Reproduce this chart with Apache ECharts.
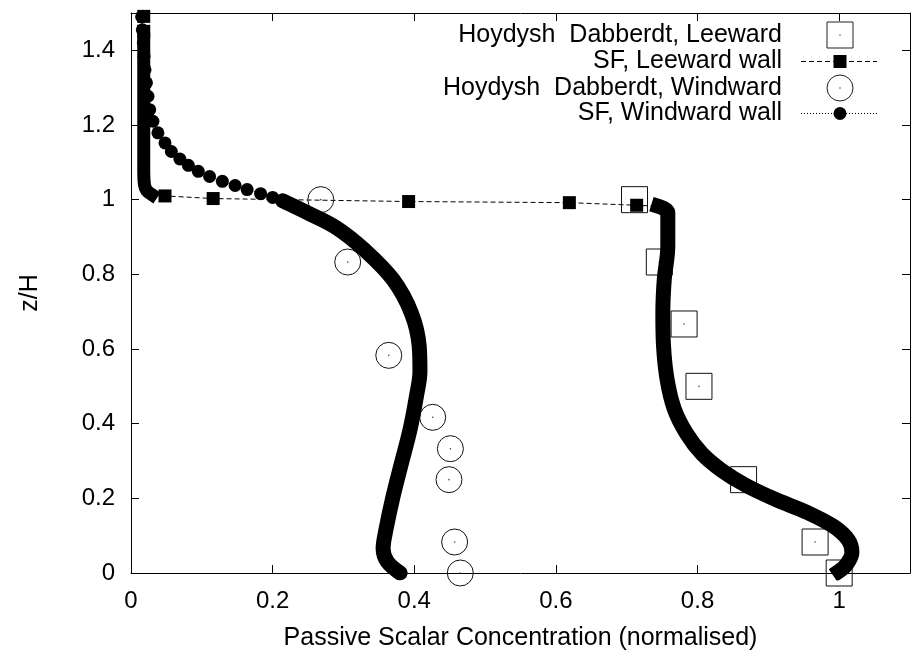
<!DOCTYPE html>
<html><head><meta charset="utf-8">
<script src="https://cdn.jsdelivr.net/npm/echarts@6/dist/echarts.min.js"></script>
<style>html,body{margin:0;padding:0;background:#fff}#c{width:915px;height:661px}</style>
</head><body><div id="c"></div>
<script>
// ---- tick labels ----
const xTickLabels = ['0', '0.2', '0.4', '0.6', '0.8', '1'];
const yTickLabels = ['0', '0.2', '0.4', '0.6', '0.8', '1', '1.2', '1.4'];
const legendNames = ['Hoydysh  Dabberdt, Leeward', 'SF, Leeward wall', 'Hoydysh  Dabberdt, Windward', 'SF, Windward wall'];
const xTitle = 'Passive Scalar Concentration (normalised)';
const yTitle = 'z/H';

// ---- Hoydysh & Dabberdt measurements ----
const hdLeewardX = [0.711, 0.746, 0.781, 0.802, 0.865, 0.966, 1.0];
const hdLeewardZ = [1.0, 0.833, 0.667, 0.5, 0.25, 0.083, 0.0];
const hdWindwardX = [0.268, 0.306, 0.364, 0.426, 0.451, 0.449, 0.457, 0.465];
const hdWindwardZ = [1.0, 0.833, 0.583, 0.417, 0.333, 0.25, 0.083, 0.0];

// ---- SF, Leeward wall ----
const sfLeeTopX = [0.018, 0.018];
const sfLeeTopZ = [1.491, 1.451];
const sfLeeColumnX = [0.018, 0.018, 0.018, 0.019, 0.022, 0.029];
const sfLeeColumnZ = [1.43, 1.25, 1.08, 1.04, 1.025, 1.014];
const sfLeeLinkX = [0.048, 0.116, 0.392, 0.619, 0.714];
const sfLeeLinkZ = [1.01, 1.003, 0.995, 0.992, 0.985];
const sfLeeWallX = [0.745, 0.758, 0.758, 0.753, 0.751, 0.752, 0.757, 0.767, 0.784, 0.806, 0.834, 0.868, 0.910, 0.955, 0.992, 1.013, 1.018, 1.010, 1.0];
const sfLeeWallZ = [0.982, 0.965, 0.875, 0.786, 0.696, 0.607, 0.518, 0.44, 0.375, 0.32, 0.275, 0.235, 0.197, 0.162, 0.125, 0.088, 0.055, 0.022, 0.005];

// ---- SF, Windward wall ----
const sfWindTopX = [0.015, 0.016, 0.0174, 0.0184, 0.0198, 0.0218, 0.024, 0.0264, 0.031, 0.038, 0.048, 0.057, 0.069, 0.081, 0.095, 0.111, 0.129, 0.147, 0.164, 0.183, 0.2, 0.214];
const sfWindTopZ = [1.49, 1.455, 1.42, 1.384, 1.348, 1.313, 1.277, 1.241, 1.21, 1.179, 1.152, 1.129, 1.109, 1.092, 1.076, 1.062, 1.049, 1.038, 1.027, 1.016, 1.006, 0.997];
const sfWindBandX = [0.214, 0.248, 0.290, 0.330, 0.370, 0.396, 0.407, 0.408, 0.403, 0.394, 0.382, 0.370, 0.360, 0.356, 0.362, 0.38];
const sfWindBandZ = [0.997, 0.966, 0.925, 0.865, 0.786, 0.696, 0.607, 0.540, 0.473, 0.384, 0.295, 0.205, 0.116, 0.065, 0.030, 0.0];

const zip = (xs, zs) => xs.map((x, i) => [x, zs[i]]);
const FONT = "'Liberation Sans', Arial, Helvetica, sans-serif";
const FS_TICK = 24;
const FS_TEXT = 25;

const fmtX = v => { const s = String(+(+v).toFixed(2)); return xTickLabels.includes(s) ? s : ''; };
const fmtY = v => { const s = String(+(+v).toFixed(2)); return yTickLabels.includes(s) ? s : ''; };

const chart = echarts.init(document.getElementById('c'), null, {renderer: 'canvas'});

const axisCommon = {
  type: 'value',
  splitLine: {show: false},
  axisLine: {show: true, onZero: false, lineStyle: {color: '#000', width: 1}},
  axisTick: {show: true, inside: true, length: 8, lineStyle: {color: '#000', width: 1}}
};

// legend (drawn as graphics: right-aligned text with the sample on the right)
const lx = 782, sx = 840, rows = [35, 61.5, 88, 113.5];
const legendGraphics = [];
legendNames.forEach((n, i) => {
  legendGraphics.push({type: 'text', x: lx, y: rows[i], z: 100,
    style: {text: n, fill: '#000', font: FS_TEXT + 'px ' + FONT, textAlign: 'right', textVerticalAlign: 'middle'}});
});
legendGraphics.push({type: 'rect', z: 100, shape: {x: sx - 13, y: rows[0] - 13, width: 26, height: 26}, style: {fill: 'none', stroke: '#222', lineWidth: 1}});
legendGraphics.push({type: 'circle', z: 100, shape: {cx: sx, cy: rows[0], r: 0.8}, style: {fill: '#555'}});
legendGraphics.push({type: 'line', z: 100, shape: {x1: 801, y1: rows[1], x2: 877, y2: rows[1]}, style: {stroke: '#000', lineWidth: 1, lineDash: [5, 3]}});
legendGraphics.push({type: 'rect', z: 100, shape: {x: sx - 6.5, y: rows[1] - 6.5, width: 13, height: 13}, style: {fill: '#000'}});
legendGraphics.push({type: 'circle', z: 100, shape: {cx: sx, cy: rows[2], r: 13}, style: {fill: 'none', stroke: '#222', lineWidth: 1}});
legendGraphics.push({type: 'circle', z: 100, shape: {cx: sx, cy: rows[2], r: 0.8}, style: {fill: '#555'}});
legendGraphics.push({type: 'line', z: 100, shape: {x1: 801, y1: rows[3], x2: 877, y2: rows[3]}, style: {stroke: '#000', lineWidth: 1, lineDash: [1, 2]}});
legendGraphics.push({type: 'circle', z: 100, shape: {cx: sx, cy: rows[3], r: 6.5}, style: {fill: '#000'}});

const openStyle = {color: 'rgba(0,0,0,0)', borderColor: '#111', borderWidth: 1, opacity: 1};
const solid = {color: '#000', opacity: 1};
const band = {color: '#000', width: 15, cap: 'square', join: 'round'};

chart.setOption({
  animation: false,
  backgroundColor: '#fff',
  grid: {left: 131, right: 5, top: 13, bottom: 88, containLabel: false},
  xAxis: [
    Object.assign({}, axisCommon, {
      position: 'bottom', min: 0, max: 1.1, interval: 0.2,
      name: xTitle, nameLocation: 'middle', nameGap: 53,
      nameTextStyle: {fontFamily: FONT, fontSize: FS_TEXT, color: '#000'},
      axisLabel: {show: true, margin: 16, fontFamily: FONT, fontSize: FS_TICK, color: '#000', formatter: fmtX}
    }),
    Object.assign({}, axisCommon, {position: 'top', min: 0, max: 1.1, interval: 0.2, axisLabel: {show: false}})
  ],
  yAxis: [
    Object.assign({}, axisCommon, {
      position: 'left', min: 0, max: 1.5, interval: 0.2,
      name: yTitle, nameLocation: 'middle', nameGap: 88,
      nameTextStyle: {fontFamily: FONT, fontSize: FS_TEXT, color: '#000'},
      axisLabel: {show: true, margin: 16, fontFamily: FONT, fontSize: FS_TICK, color: '#000', formatter: fmtY}
    }),
    Object.assign({}, axisCommon, {position: 'right', min: 0, max: 1.5, interval: 0.2, axisLabel: {show: false}})
  ],
  graphic: legendGraphics,
  series: [
    // Hoydysh & Dabberdt leeward
    {name: legendNames[0], type: 'scatter', data: zip(hdLeewardX, hdLeewardZ), symbol: 'rect', symbolSize: 26,
      itemStyle: openStyle, z: 2, silent: true},
    {type: 'scatter', data: zip(hdLeewardX, hdLeewardZ), symbol: 'circle', symbolSize: 1.6,
      itemStyle: {color: '#444', opacity: 1}, z: 2, silent: true},
    // SF leeward: dashed connecting line
    {name: legendNames[1], type: 'line', symbol: 'none', showSymbol: false, z: 3, silent: true,
      data: zip(sfLeeTopX, sfLeeTopZ).concat(zip(sfLeeColumnX, sfLeeColumnZ), zip(sfLeeLinkX, sfLeeLinkZ), zip(sfLeeWallX, sfLeeWallZ)),
      lineStyle: {color: '#000', width: 1, type: [5, 3]}},
    {type: 'scatter', symbol: 'rect', symbolSize: 13, z: 3, silent: true,
      data: zip(sfLeeTopX, sfLeeTopZ).concat(zip(sfLeeLinkX, sfLeeLinkZ)), itemStyle: solid},
    {type: 'line', symbol: 'none', showSymbol: false, z: 3, silent: true, smooth: 0.3,
      data: zip(sfLeeColumnX, sfLeeColumnZ), lineStyle: Object.assign({}, band, {width: 13})},
    {type: 'line', symbol: 'none', showSymbol: false, z: 3, silent: true, smooth: 0.35,
      data: zip(sfLeeWallX, sfLeeWallZ), lineStyle: band},
    // Hoydysh & Dabberdt windward
    {name: legendNames[2], type: 'scatter', data: zip(hdWindwardX, hdWindwardZ), symbol: 'circle', symbolSize: 26,
      itemStyle: openStyle, z: 4, silent: true},
    {type: 'scatter', data: zip(hdWindwardX, hdWindwardZ), symbol: 'circle', symbolSize: 1.6,
      itemStyle: {color: '#444', opacity: 1}, z: 4, silent: true},
    // SF windward
    {name: legendNames[3], type: 'line', symbol: 'none', showSymbol: false, z: 5, silent: true,
      data: zip(sfWindTopX, sfWindTopZ).concat(zip(sfWindBandX, sfWindBandZ)),
      lineStyle: {color: '#000', width: 1, type: [1, 2]}},
    {type: 'scatter', symbol: 'circle', symbolSize: 13, z: 5, silent: true,
      data: zip(sfWindTopX, sfWindTopZ), itemStyle: solid},
    {type: 'line', symbol: 'none', showSymbol: false, z: 5, silent: true, smooth: 0.35,
      data: zip(sfWindBandX, sfWindBandZ),
      lineStyle: {color: '#000', width: 15, cap: 'round', join: 'round'}}
  ]
});
</script>
</body></html>
